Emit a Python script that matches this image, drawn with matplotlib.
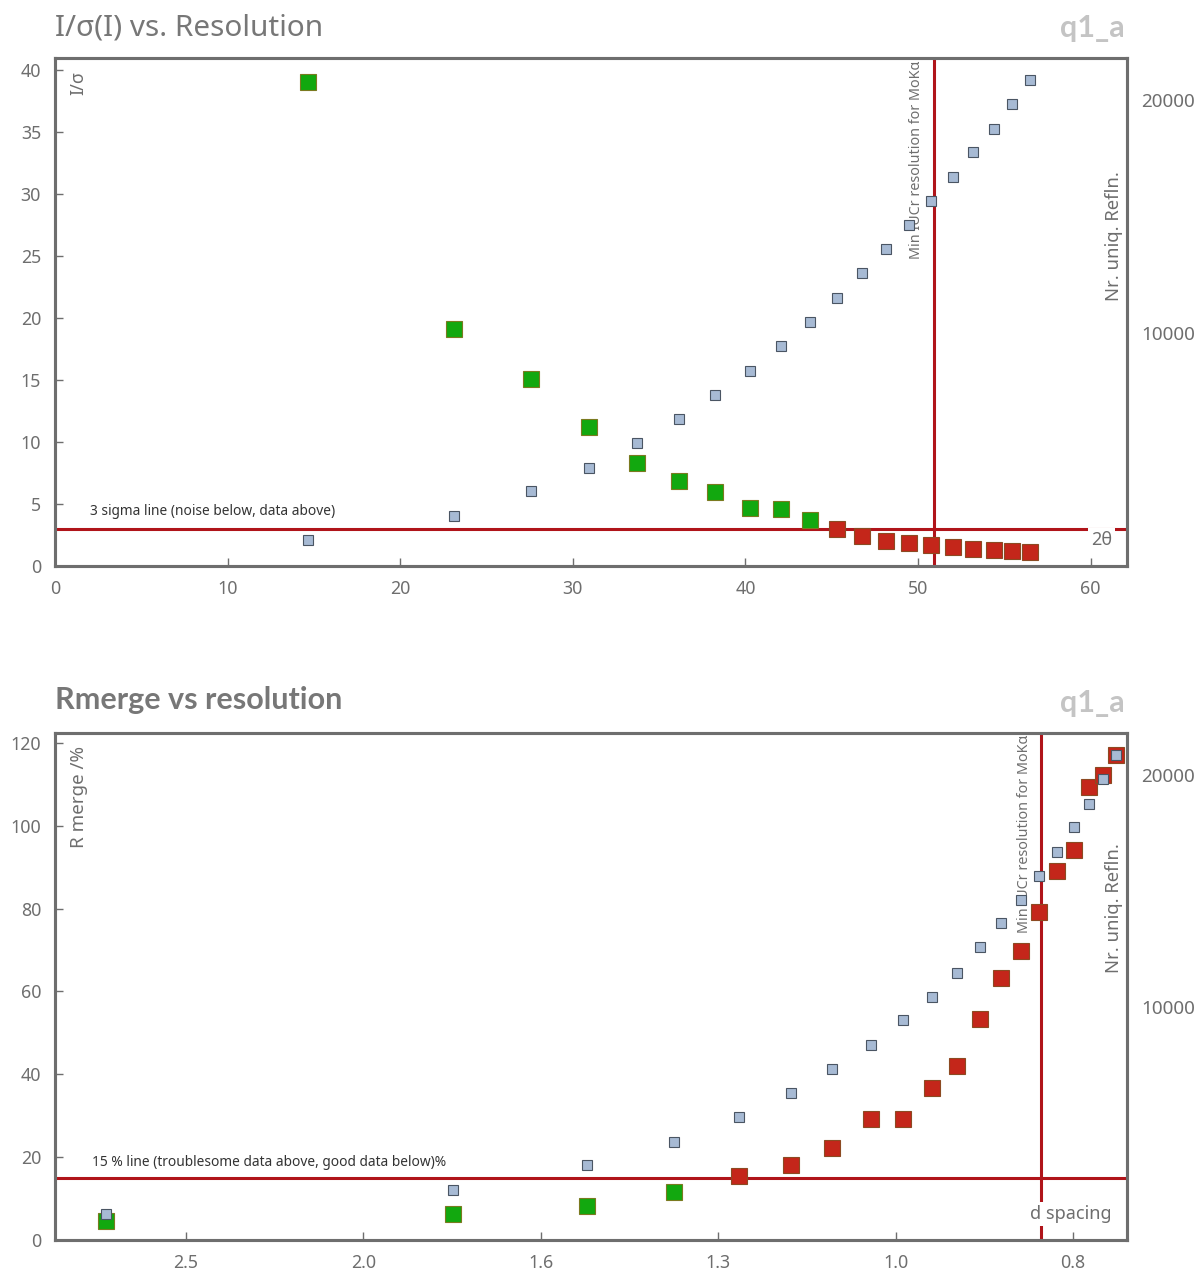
import matplotlib
matplotlib.use("Agg")
import matplotlib.pyplot as plt

plt.rcParams['font.family'] = ['Noto Sans', 'DejaVu Sans']

# ---- data (20 resolution shells) ----
two_theta = [14.65, 23.10, 27.56, 30.92, 33.70, 36.13, 38.22, 40.24, 42.04, 43.72,
             45.28, 46.73, 48.12, 49.45, 50.72, 52.00, 53.20, 54.37, 55.41, 56.46]
d_spacing = [2.787, 1.775, 1.492, 1.333, 1.226, 1.146, 1.0855, 1.0331, 0.9908, 0.9545,
             0.9233, 0.8961, 0.8717, 0.8497, 0.8298, 0.8107, 0.7937, 0.7779, 0.7645, 0.7514]
i_over_sigma = [39.1, 19.1, 15.1, 11.2, 8.3, 6.9, 6.0, 4.7, 4.6, 3.7,
                2.98, 2.42, 2.0, 1.85, 1.7, 1.53, 1.37, 1.29, 1.2, 1.13]
n_unique = [1120, 2150, 3220, 4210, 5280, 6310, 7340, 8370, 9440, 10470,
            11500, 12580, 13610, 14640, 15670, 16700, 17770, 18760, 19830, 20860]
r_merge = [4.6, 6.3, 8.2, 11.6, 15.5, 18.1, 22.2, 29.2, 29.2, 36.7,
           42.0, 53.4, 63.3, 69.8, 79.2, 89.1, 94.2, 109.4, 112.3, 117.1]

sigma_cut = 3.0
rmerge_cut = 15.0
iucr_two_theta = 50.9
iucr_d = 0.828

x_ticks_top = [0, 10, 20, 30, 40, 50, 60]
y_ticks_top = [0, 5, 10, 15, 20, 25, 30, 35, 40]
d_tick_exps = [0.4, 0.3, 0.2, 0.1, 0.0, -0.1]
d_tick_labels = ['2.5', '2.0', '1.6', '1.3', '1.0', '0.8']
y_ticks_bottom = [0, 20, 40, 60, 80, 100, 120]
refl_ticks = [10000, 20000]

# ---- styles ----
GREEN, GREEN_E = '#12a80f', '#7a7a20'
RED, RED_E = '#c4261a', '#8c4a22'
BLUE, BLUE_E = '#a7bad4', '#4a5563'
LINE = '#b0141a'
SPINE = '#6e6e6e'
TXT = '#6e6e6e'
BOLD_FAM = ['Lato', 'Open Sans', 'DejaVu Sans']

fig = plt.figure(figsize=(11.97, 12.72), dpi=100)

def style_axes(ax, ax2):
    for a in (ax, ax2):
        for s in a.spines.values():
            s.set_color(SPINE)
            s.set_linewidth(2.2)
    ax.tick_params(axis='both', direction='in', length=6, width=1, color=SPINE,
                   labelcolor=TXT, labelsize=12.8, pad=10)
    ax2.tick_params(axis='y', length=0, labelcolor=TXT, labelsize=13.6, pad=10)
    ax2.set_ylim(0, 21800)
    ax2.set_yticks(refl_ticks)
    ax2.set_yticklabels([str(t) for t in refl_ticks])

def shell_colors(vals, good):
    return [GREEN if good(v) else RED for v in vals]

# ================= top panel =================
ax = fig.add_axes([55/1197, 1-566/1272, 1072/1197, 508/1272])
ax2 = ax.twinx()
style_axes(ax, ax2)
ax.set_xlim(0, 62.1)
ax.set_ylim(0, 41)
ax.set_xticks(x_ticks_top)
ax.set_yticks(y_ticks_top)

ax.axhline(sigma_cut, color=LINE, lw=2.2, zorder=1)
ax.axvline(iucr_two_theta, color=LINE, lw=2.2, zorder=1)
cols = shell_colors(i_over_sigma, lambda v: v > sigma_cut)
for x, y, c in zip(two_theta, i_over_sigma, cols):
    ax.plot(x, y, 's', ms=11, mfc=c, mec=GREEN_E if c == GREEN else RED_E, mew=0.8, zorder=3)
ax2.plot(two_theta, n_unique, 's', ms=7.5, mfc=BLUE, mec=BLUE_E, mew=0.8, ls='none')

ax.text(2.0, sigma_cut + 0.8, '3 sigma line (noise below, data above)', fontsize=9.9,
        color='#333333', ha='left', va='bottom')
ax.text(0.986, 2.1, '2θ', transform=ax.get_yaxis_transform(), ha='right', va='center',
        fontsize=13, color=TXT, bbox=dict(fc='white', ec='none', pad=2), zorder=4)
ax.text(iucr_two_theta - 0.55, 40.8, 'Min IUCr resolution for MoKα', rotation=90,
        ha='right', va='top', fontsize=10.3, color=TXT)
ax.text(0.022, 0.975, 'I/σ', transform=ax.transAxes, rotation=90, ha='center', va='top',
        fontsize=13, color=TXT)
ax.text(0.988, 0.65, 'Nr. uniq. Refln.', transform=ax.transAxes, rotation=90,
        ha='center', va='center', fontsize=13.3, color=TXT)

fig.text(55/1197, 1-28/1272, 'I/σ(I) vs. Resolution', fontsize=21.4, color='#777777',
         ha='left', va='center')
fig.text(1125/1197, 1-28/1272, 'q1_a', fontsize=22, color='#c4c4c4', weight='bold',
         family=BOLD_FAM, ha='right', va='center')

# ================= bottom panel =================
bx = fig.add_axes([55/1197, 1-1240/1272, 1072/1197, 507/1272])
bx2 = bx.twinx()
style_axes(bx, bx2)
bx.set_xscale('log')
bx.set_xlim(10**0.4738, 10**-0.1304)
bx.set_ylim(0, 122.4)
bx.xaxis.set_minor_locator(matplotlib.ticker.NullLocator())
bx.set_xticks([10**e for e in d_tick_exps])
bx.set_xticklabels(d_tick_labels)
bx.xaxis.set_minor_formatter(matplotlib.ticker.NullFormatter())
bx.set_yticks(y_ticks_bottom)

bx.axhline(rmerge_cut, color=LINE, lw=2.2, zorder=1)
bx.axvline(iucr_d, color=LINE, lw=2.2, zorder=1)
cols = shell_colors(r_merge, lambda v: v < rmerge_cut)
for x, y, c in zip(d_spacing, r_merge, cols):
    bx.plot(x, y, 's', ms=11, mfc=c, mec=GREEN_E if c == GREEN else RED_E, mew=0.8, zorder=3)
bx2.plot(d_spacing, n_unique, 's', ms=7.5, mfc=BLUE, mec=BLUE_E, mew=0.8, ls='none')

bx.text(10**0.453, rmerge_cut + 1.8, '15 % line (troublesome data above, good data below)%',
        fontsize=9.9, color='#333333', ha='left', va='bottom')
bx.text(0.986, 6.3, 'd spacing', transform=bx.get_yaxis_transform(), ha='right', va='center',
        fontsize=13, color=TXT, bbox=dict(fc='white', ec='none', pad=2), zorder=4)
bx.text(iucr_d * 1.012, 122.0, 'Min IUCr resolution for MoKα', rotation=90,
        ha='right', va='top', fontsize=10.3, color=TXT)
bx.text(0.022, 0.975, 'R merge /%', transform=bx.transAxes, rotation=90, ha='center', va='top',
        fontsize=13.5, color=TXT)
bx.text(0.988, 0.655, 'Nr. uniq. Refln.', transform=bx.transAxes, rotation=90,
        ha='center', va='center', fontsize=13.3, color=TXT)

fig.text(55/1197, 1-700/1272, 'Rmerge vs resolution', fontsize=22, color='#777777',
         weight='bold', family=BOLD_FAM, ha='left', va='center')
fig.text(1125/1197, 1-703/1272, 'q1_a', fontsize=22, color='#c4c4c4', weight='bold',
         family=BOLD_FAM, ha='right', va='center')

fig.savefig('out.png', dpi=100)
